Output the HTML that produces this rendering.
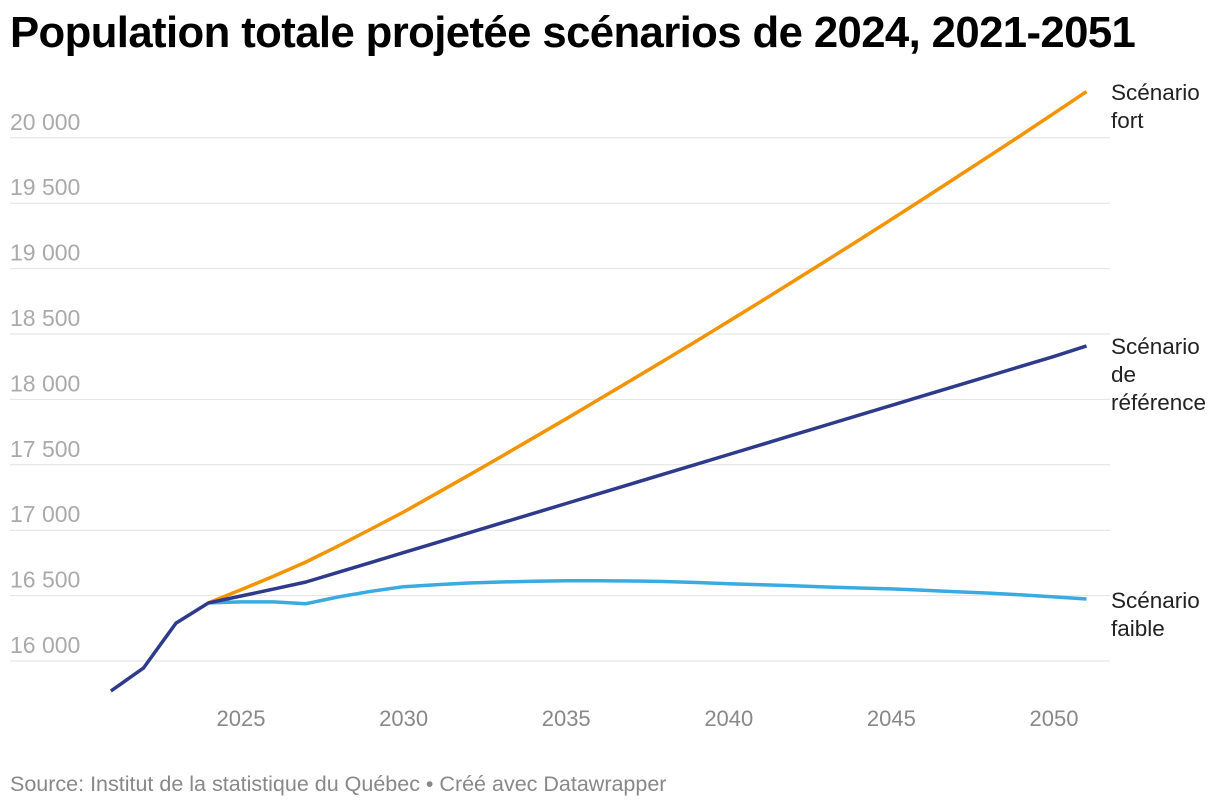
<!DOCTYPE html>
<html><head><meta charset="utf-8">
<style>
body{margin:0;background:#fff;font-family:"Liberation Sans",sans-serif;}
#wrap{position:relative;width:1220px;height:808px;overflow:hidden;}
h1{position:absolute;left:10px;top:8px;margin:0;font-size:43.7px;font-weight:bold;color:#000;letter-spacing:-0.6px;}
#src{position:absolute;left:10px;top:772px;font-size:21.5px;color:#888;}
</style></head><body>
<div id="wrap">
<h1>Population totale projetée scénarios de 2024, 2021-2051</h1>
<svg id="chart" width="1220" height="808" style="position:absolute;left:0;top:0"></svg>
<div id="src">Source: Institut de la statistique du Québec • Créé avec Datawrapper</div>
</div>
<script>
const years=[2021,2022,2023,2024,2025,2026,2027,2028,2029,2030,2031,2032,2033,2034,2035,2036,2037,2038,2039,2040,2041,2042,2043,2044,2045,2046,2047,2048,2049,2050,2051];
const reference=[15771,15946,16290,16444,16497,16550,16604,16679,16754,16829,16904,16979,17054,17129,17204,17279,17354,17429,17504,17579,17654,17729,17804,17879,17954,18029,18104,18179,18254,18329,18409];
const fort=[null,null,null,16444,16544,16648,16757,16881,17009,17139,17279,17420,17563,17707,17852,17999,18147,18296,18446,18598,18751,18905,19061,19218,19376,19536,19697,19859,20022,20187,20353];
const faible=[null,null,null,16444,16452,16452,16438,16490,16533,16568,16583,16596,16604,16610,16613,16614,16612,16608,16600,16590,16583,16575,16566,16558,16551,16541,16530,16519,16505,16490,16474];
const yTicks=[16000,16500,17000,17500,18000,18500,19000,19500,20000];
const xTicks=[2025,2030,2035,2040,2045,2050];
const x=v=>241+(v-2025)*32.52;
const y=v=>661-(v-16000)/500*65.4;
const svg=document.getElementById('chart');
const NS='http://www.w3.org/2000/svg';
function mk(t,a){const e=document.createElementNS(NS,t);for(const k in a)e.setAttribute(k,a[k]);svg.appendChild(e);return e;}
yTicks.forEach(v=>{
 const l=mk('line',{x1:10,x2:1110,y1:y(v),y2:y(v),stroke:'#e2e2e2','stroke-width':1});
 
 
 const t=mk('text',{x:10,y:y(v)-8,'font-size':23,fill:'#aaa','font-family':'Liberation Sans, sans-serif'});
 t.textContent=v.toLocaleString('fr-FR').replace(/\s/g,' ');
 
 
});
xTicks.forEach(v=>{
 const t=mk('text',{x:x(v),y:726,'font-size':22,fill:'#888','text-anchor':'middle','font-family':'Liberation Sans, sans-serif'});
 t.textContent=v;
 
 
});
function line(data,color,name){
 let d='';data.forEach((v,i)=>{if(v==null)return;d+=(d?'L':'M')+x(years[i]).toFixed(1)+','+y(v).toFixed(1);});
 const p=mk('path',{d:d,fill:'none',stroke:color,'stroke-width':3.5,'stroke-linejoin':'round'});
 
 
}
line(fort,'#f29400','line-fort');
line(faible,'#3aabe0','line-faible');
line(reference,'#2e3a8c','line-reference');
function label(lines,yy,name){
 lines.forEach((s,i)=>{const t=mk('text',{x:1111,y:yy+i*28,'font-size':22.5,fill:'#222','font-family':'Liberation Sans, sans-serif'});t.textContent=s;
 
 });
}
label(['Scénario','fort'],100,'label-fort');
label(['Scénario','de','référence'],354,'label-reference');
label(['Scénario','faible'],608,'label-faible');
</script>
</body></html>
